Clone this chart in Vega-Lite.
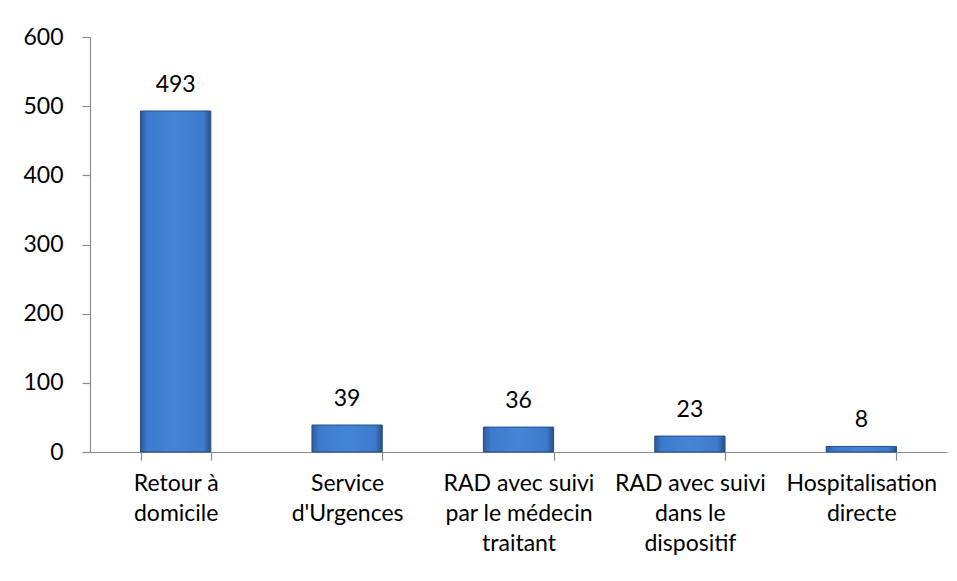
{
  "$schema": "https://vega.github.io/schema/vega-lite/v6.json",
  "width": 857,
  "height": 415,
  "autosize": {"type": "none"},
  "padding": {"left": 90, "top": 37, "right": 10, "bottom": 129},
  "background": "white",
  "config": {
    "view": {"stroke": null},
    "font": "Lato",
    "axis": {"domainColor": "#8c8c8c", "tickColor": "#8c8c8c", "labelColor": "#000000", "labelFont": "Lato", "labelFontSize": 23, "grid": false, "domainWidth": 1.2, "tickWidth": 1.2}
  },
  "data": {
    "values": [
      {"cat": "Retour à|domicile", "n": 493},
      {"cat": "Service|d'Urgences", "n": 39},
      {"cat": "RAD avec suivi|par le médecin|traitant", "n": 36},
      {"cat": "RAD avec suivi|dans le|dispositif", "n": 23},
      {"cat": "Hospitalisation|directe", "n": 8}
    ]
  },
  "encoding": {
    "x": {
      "field": "cat", "type": "nominal", "sort": null, "title": null,
      "scale": {"paddingInner": 0.59, "paddingOuter": 0.295},
      "axis": {"labelAngle": 0, "labelExpr": "split(datum.label, '|')", "labelLineHeight": 30, "tickBand": "extent", "tickSize": 8, "labelPadding": 12, "labelBaseline": "top"}
    },
    "y": {
      "field": "n", "type": "quantitative", "title": null,
      "scale": {"domain": [0, 600]},
      "axis": {"values": [0, 100, 200, 300, 400, 500, 600], "tickSize": 8, "labelPadding": 19}
    }
  },
  "layer": [
    {
      "mark": {
        "type": "bar",
        "stroke": "#254f86",
        "strokeWidth": 1,
        "fill": {
          "x1": 0, "y1": 0, "x2": 1, "y2": 0,
          "gradient": "linear",
          "stops": [
            {"offset": 0, "color": "#2b5b99"},
            {"offset": 0.1, "color": "#3d7acb"},
            {"offset": 0.5, "color": "#4486d6"},
            {"offset": 0.9, "color": "#3d7acb"},
            {"offset": 1, "color": "#284f85"}
          ]
        }
      }
    },
    {
      "mark": {"type": "text", "baseline": "alphabetic", "dy": -19, "fontSize": 23, "color": "#000000", "font": "Lato"},
      "encoding": {"text": {"field": "n", "type": "quantitative"}}
    }
  ]
}
